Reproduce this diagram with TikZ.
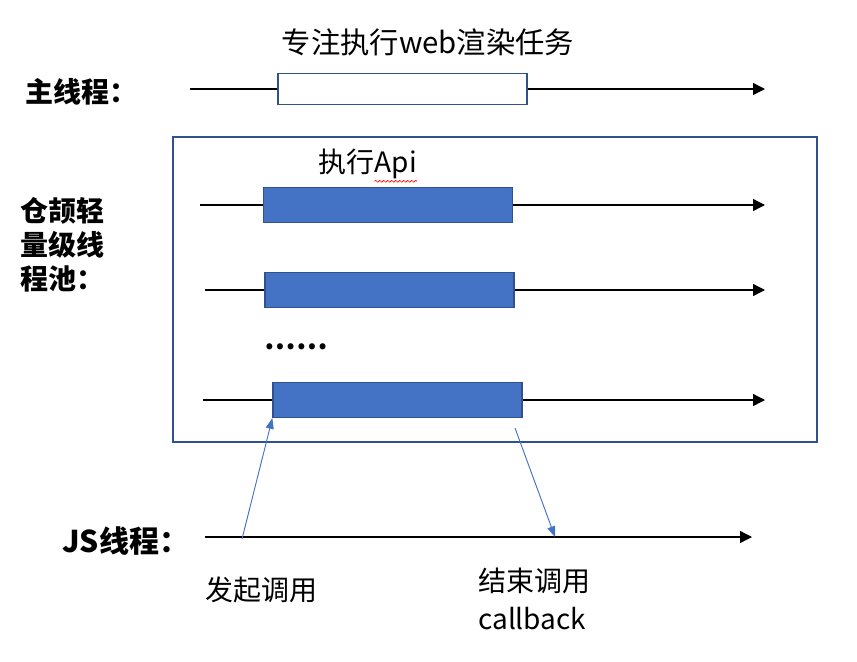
\documentclass[tikz,border=0pt]{standalone}
\usepackage{fontspec}
\setmainfont{Noto Sans CJK SC}
\usetikzlibrary{positioning,arrows.meta,decorations.pathmorphing}
\definecolor{runblue}{HTML}{4472C4}
\definecolor{edgeblue}{HTML}{2F528F}
\tikzset{
	lbl/.style={font=\fontsize{21}{26}\selectfont, inner sep=0pt},
	threadlbl/.style={inner sep=0pt, align=left, font=\fontsize{21}{25.5}\selectfont\bfseries},
	idlebox/.style={draw=edgeblue, line width=1.2pt, fill=white, minimum width=186.5pt, minimum height=23pt, inner sep=0pt},
	runbox/.style={idlebox, fill=runblue, minimum height=26pt},
	timeline/.style={line width=1pt, -{Triangle[length=9pt,width=9pt]}},
	calls/.style={draw=runblue, line width=0.7pt, -{Triangle[length=8pt,width=6pt]}},
}

\begin{document}
\begin{tikzpicture}[x=0.75pt, y=-0.75pt]
	\useasboundingbox (0,0) rectangle (857,661);

	\node [lbl, font=\fontsize{22}{26}\selectfont] (title) at (428,42) {专注执行web渲染任务};
	\node [threadlbl, anchor=west] (mainlbl) at (25,92) {主线程：};
	\node [threadlbl, anchor=west] (poollbl) at (20,245) {仓颉轻\\量级线\\程池：};
	\node [threadlbl, font=\fontsize{22.5}{26}\selectfont\bfseries, anchor=west] (jslbl) at (62,541) {JS线程：};

	\draw [edgeblue, line width=1.6pt] (173,137) rectangle (817,442);
	\node [lbl, anchor=west] (exec) at (318,162) {执行};
	\node [lbl, anchor=base west] (api) at (exec.base east) {Api};
	\draw [red, line width=0.5pt, decorate, decoration={snake, amplitude=0.7pt, segment length=3pt}]
		([yshift=-1.5pt]api.south west) -- ([yshift=-1.5pt]api.south east);

	\coordinate (m0) at (190,89);
	\coordinate (m1) at (765,89);
	\node [idlebox] (mbox) at (402.5,89) {};

	\coordinate (s1) at (200,205);
	\coordinate (e1) at (765,205);
	\node [runbox] (b1) at (388,205) {};

	\coordinate (s2) at (205,290);
	\coordinate (e2) at (765,290);
	\node [runbox] (b2) at (389.5,290) {};

	\node [lbl, font=\fontsize{21}{26}\selectfont\bfseries] (dots) at (296,347) {……};

	\coordinate (s3) at (203,400);
	\coordinate (e3) at (765,400);
	\node [runbox] (b3) at (397.5,400) {};

	\coordinate (js0) at (205,537);
	\coordinate (js1) at (752,537);
	\coordinate (callsrc) at (242,539);
	\coordinate (retsrc) at (515,428);
	\coordinate (retdst) at (555,537);

	\node [lbl, anchor=west] (startlbl) at (205,590) {发起调用};
	\node [lbl, anchor=west, align=left, font=\fontsize{21}{28.5}\selectfont] (endlbl) at (478,599) {结束调用\\callback};

	\draw [line width=1pt] (m0) -- (mbox.west);
	\draw [timeline] (mbox.east) -- (m1);
	\draw [line width=1pt] (s1) -- (b1.west);
	\draw [timeline] (b1.east) -- (e1);
	\draw [line width=1pt] (s2) -- (b2.west);
	\draw [timeline] (b2.east) -- (e2);
	\draw [line width=1pt] (s3) -- (b3.west);
	\draw [timeline] (b3.east) -- (e3);
	\draw [timeline] (js0) -- (js1);

	\draw [calls] (callsrc) -- (b3.south west);
	\draw [calls] (retsrc) -- (retdst);

\end{tikzpicture}
\end{document}
